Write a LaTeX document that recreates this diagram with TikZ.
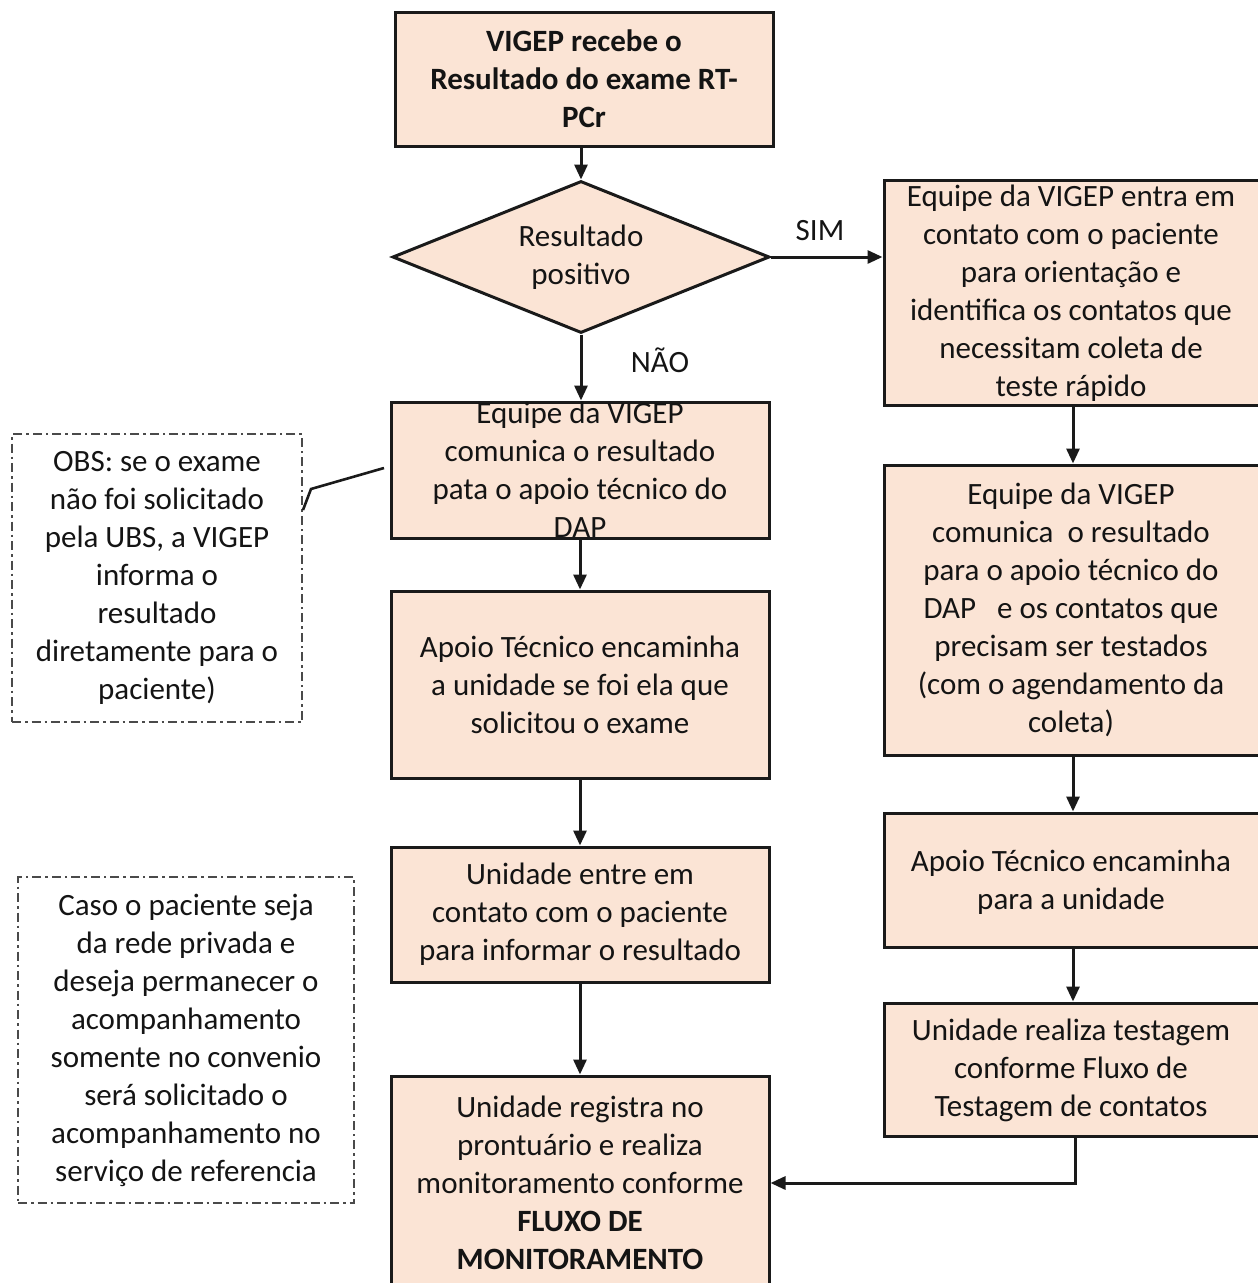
\documentclass[tikz,border=0pt]{standalone}
\usepackage{fontspec}
\setmainfont{Carlito}
\usetikzlibrary{shapes.geometric,arrows.meta}

\definecolor{boxfill}{HTML}{FBE4D5}
\definecolor{edge}{HTML}{1A1A1A}
\definecolor{notegray}{HTML}{4A4A4A}

\tikzset{
  box/.style={draw=edge, fill=boxfill, line width=3pt, rectangle, inner sep=0pt},
  decision/.style={draw=edge, fill=boxfill, line width=3pt, diamond, inner sep=0pt},
  note/.style={draw=notegray, line width=2.4pt, rectangle, inner sep=0pt,
    dash pattern=on 9pt off 4pt on 2.5pt off 4pt},
  txt/.style={align=center, inner sep=0pt, text=black!92,
    font=\fontsize{31}{38}\selectfont},
  flow/.style={draw=edge, line width=3pt, -{Triangle[length=15pt,width=13pt]}},
  link/.style={draw=edge, line width=2.6pt},
  tag/.style={inner sep=0pt, text=black!92, font=\fontsize{31}{38}\selectfont}
}

\begin{document}
\begin{tikzpicture}[x=1pt, y=-1pt]
\useasboundingbox (0,0) rectangle (1258,1283);
\clip (0,0) rectangle (1258,1283);

% main column
\node[box, minimum width=378pt, minimum height=134pt] (top) at (584,79) {};
\node[txt, font=\fontsize{31}{38}\selectfont\bfseries] (topT) at (top.center)
  {VIGEP recebe o\\Resultado do exame RT-\\PCr};

\node[decision, minimum width=377pt, minimum height=152pt] (dec) at (581,257) {};
\node[txt] (decT) at (dec.center) {Resultado\\positivo};

\node[box, minimum width=378pt, minimum height=136pt] (m2) at (580,470) {};
\node[txt] (m2T) at (m2.center)
  {Equipe da VIGEP\\comunica o resultado\\pata o apoio técnico do\\DAP};

\node[box, minimum width=378pt, minimum height=187pt] (m3) at (580,684.5) {};
\node[txt] (m3T) at (m3.center)
  {Apoio Técnico encaminha\\a unidade se foi ela que\\solicitou o exame};

\node[box, minimum width=378pt, minimum height=135pt] (m4) at (580,914.5) {};
\node[txt] (m4T) at (m4.center)
  {Unidade entre em\\contato com o paciente\\para informar o resultado};

\node[box, minimum width=378pt, minimum height=232pt] (m5) at (580,1192) {};
\node[txt] (m5T) at (580,1183)
  {Unidade registra no\\prontuário e realiza\\monitoramento conforme\\
   \textbf{FLUXO DE}\\\textbf{MONITORAMENTO}};

% right column
\node[box, minimum width=378pt, minimum height=225pt] (r1) at (1073,292.5) {};
\node[txt] (r1T) at (1071,293)
  {Equipe da VIGEP entra em\\contato com o paciente\\para orientação e\\
   identifica os contatos que\\necessitam coleta de\\teste rápido};

\node[box, minimum width=378pt, minimum height=290pt] (r2) at (1073,610) {};
\node[txt] (r2T) at (1071,610)
  {Equipe da VIGEP\\comunica\ \ o resultado\\para o apoio técnico do\\
   DAP\ \ \ e os contatos que\\precisam ser testados\\(com o agendamento da\\coleta)};

\node[box, minimum width=378pt, minimum height=134pt] (r3) at (1073,880) {};
\node[txt] (r3T) at (1071,882) {Apoio Técnico encaminha\\para a unidade};

\node[box, minimum width=378pt, minimum height=133pt] (r4) at (1073,1069.5) {};
\node[txt] (r4T) at (1071,1070)
  {Unidade realiza testagem\\conforme Fluxo de\\Testagem de contatos};

% side notes
\node[note, minimum width=290pt, minimum height=288pt] (obs) at (157,578) {};
\node[txt] (obsT) at (obs.center)
  {OBS: se o exame\\não foi solicitado\\pela UBS, a VIGEP\\informa o\\resultado\\
   diretamente para o\\paciente)};

\node[note, minimum width=336pt, minimum height=326pt] (caso) at (186,1040) {};
\node[txt] (casoT) at (caso.center)
  {Caso o paciente seja\\da rede privada e\\deseja permanecer o\\acompanhamento\\
   somente no convenio\\será solicitado o\\acompanhamento no\\serviço de referencia};

% connectors
\draw[flow] (dec.north |- top.south) -- (dec.north);
\draw[flow] (dec.east) -- (r1.west |- dec.east);
\draw[flow] (dec.south) -- (m2.north -| dec.south);
\draw[flow] (m2.south) -- (m3.north);
\draw[flow] (m3.south) -- (m4.north);
\draw[flow] (m4.south) -- (m5.north);
\draw[flow] (r1.south) -- (r2.north);
\draw[flow] (r2.south) -- (r3.north);
\draw[flow] (r3.south) -- (r4.north);
\coordinate (bend) at (1075,1183);
\draw[flow] (r4.south -| bend) -- (bend) -- (m5.east |- bend);

\node[tag] (sim) at (820,231) {SIM};
\node[tag] (nao) at (660,360) {NÃO};

% callout from the note to the box
\coordinate (obsA) at (384,468);
\coordinate (obsB) at (311,489);
\coordinate (obsC) at (303,510);
\draw[link] (obsA) -- (obsB) -- (obsC);
\end{tikzpicture}
\end{document}
